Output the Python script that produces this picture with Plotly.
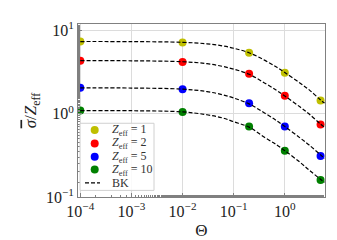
import plotly.graph_objects as go

# ---- data ----
theta_pts = [1e-4, 1e-2, 0.2, 1.0, 5.0]
sig_z1 = [7.34, 7.14, 5.40, 3.10, 1.44]
sig_z2 = [4.32, 4.18, 3.01, 1.64, 0.74]
sig_z5 = [2.04, 1.97, 1.33, 0.70, 0.31]
sig_z10 = [1.09, 1.05, 0.70, 0.36, 0.16]

theta_bk = [1e-4, 1e-3, 1e-2, 0.03, 0.06, 0.1, 0.2, 0.4, 0.7, 1.0, 2.0, 3.0, 5.0, 6.0]
bk_z1 = [7.34, 7.32, 7.18, 6.89, 6.51, 6.10, 5.38, 4.39, 3.60, 3.12, 2.32, 1.93, 1.46, 1.34]
bk_z2 = [4.32, 4.31, 4.20, 3.98, 3.70, 3.42, 2.97, 2.34, 1.89, 1.63, 1.20, 0.99, 0.75, 0.69]
bk_z5 = [2.04, 2.03, 1.97, 1.84, 1.69, 1.54, 1.31, 1.02, 0.82, 0.70, 0.51, 0.42, 0.32, 0.29]
bk_z10 = [1.09, 1.085, 1.05, 0.97, 0.89, 0.80, 0.69, 0.52, 0.42, 0.36, 0.26, 0.21, 0.163, 0.15]

zeff_labels = ["1", "2", "5", "10"]
colors = ["#bfbf00", "#ff0000", "#0000ff", "#008000"]
x_tick_exps = [-4, -3, -2, -1, 0]
y_tick_exps = [-1, 0, 1]

series = [sig_z1, sig_z2, sig_z5, sig_z10]
bk_series = [bk_z1, bk_z2, bk_z5, bk_z10]

FONT = "Liberation Serif"
W, H = 337, 240
ML, MR, MT, MB = 70, 20, 13, 44
PW, PH = W - ML - MR, H - MT - MB


def pow_label(e):
    s = str(e).replace("-", "−")
    return f"10<sup>{s}</sup>"


fig = go.Figure()
for ys, c in zip(series, colors):
    fig.add_trace(go.Scatter(x=theta_pts, y=ys, mode="markers",
                             marker=dict(color=c, size=8, line=dict(width=0)),
                             showlegend=False))
for ys in bk_series:
    fig.add_trace(go.Scatter(x=theta_bk, y=ys, mode="lines", line_shape="spline",
                             line=dict(color="black", width=1.2, dash="4px,2px"),
                             showlegend=False))

axis_common = dict(type="log", showline=True, linecolor="#808080", linewidth=1,
                   mirror=True, ticks="inside", ticklen=4, tickcolor="#808080",
                   showgrid=True, gridcolor="#dcdcdc", gridwidth=1, zeroline=False,
                   tickfont=dict(family=FONT, size=16, color="#222"),
                   minor=dict(ticks="inside", ticklen=2, tickcolor="#808080", showgrid=False))

fig.update_xaxes(**axis_common, range=[-4.045, 0.786], tickmode="array",
                 tickvals=[10.0 ** e for e in x_tick_exps],
                 ticktext=[pow_label(e) for e in x_tick_exps],
                 title=dict(text="Θ", font=dict(family=FONT, size=17, color="#222"), standoff=4))
fig.update_yaxes(**axis_common, range=[-1, 1.076], tickmode="array",
                 tickvals=[10.0 ** e for e in y_tick_exps],
                 ticktext=[pow_label(e) for e in y_tick_exps],
                 title=dict(text="<span style=\"text-decoration:overline\"><i>σ</i></span>/<i>Z</i><sub>eff</sub>",
                            font=dict(family=FONT, size=17, color="#222"), standoff=4))

# custom legend (layout elements)
def fx(px):
    return (px - ML) / PW

def fy(py):
    return (H - MB - py) / PH

shapes = [dict(type="rect", xref="paper", yref="paper", x0=fx(72), x1=fx(146), y0=fy(189), y1=fy(118),
               line=dict(color="#d0d0d0", width=1), fillcolor="rgba(255,255,255,0.85)", layer="above")]
annotations = []
rows = [125, 139.3, 153.3, 167, 181]
for i, (lab, c) in enumerate(zip(zeff_labels, colors)):
    shapes.append(dict(type="circle", xref="paper", yref="paper", xsizemode="pixel", ysizemode="pixel",
                       xanchor=fx(86.7), yanchor=fy(rows[i]), x0=-4, x1=4, y0=-4, y1=4,
                       fillcolor=c, line=dict(width=0), layer="above"))
    annotations.append(dict(xref="paper", yref="paper", x=fx(102), y=fy(rows[i]), xanchor="left", yanchor="middle",
                            showarrow=False, text=f"<i>Z</i><sub>eff</sub> = {lab}",
                            font=dict(family=FONT, size=12, color="#333")))
shapes.append(dict(type="line", xref="paper", yref="paper", x0=fx(77), x1=fx(92), y0=fy(rows[4]), y1=fy(rows[4]),
                   line=dict(color="black", width=1.2, dash="4px,2px"), layer="above"))
annotations.append(dict(xref="paper", yref="paper", x=fx(102), y=fy(rows[4]), xanchor="left", yanchor="middle",
                        showarrow=False, text="BK", font=dict(family=FONT, size=12, color="#333")))

fig.update_layout(width=W, height=H, margin=dict(l=ML, r=MR, t=MT, b=MB),
                  paper_bgcolor="white", plot_bgcolor="white", showlegend=False,
                  shapes=shapes, annotations=annotations)

fig.write_html("out.html")
